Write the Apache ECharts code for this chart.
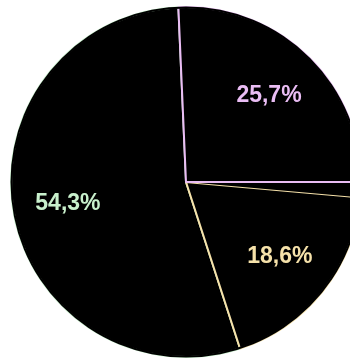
<!DOCTYPE html>
<html>
<head>
<meta charset="utf-8">
<script src="https://cdn.jsdelivr.net/npm/echarts@6/dist/echarts.min.js"></script>
<style>
  html, body { margin: 0; padding: 0; background: #ffffff; }
  #chart { width: 350px; height: 361px; }
</style>
</head>
<body>
<div id="chart"></div>
<script>
// Slice shares in percent, counter-clockwise from the top
const shares = [54.3, 18.6, 1.4, 25.7];
// Accent colour per slice (edges and label text); null = no edge
const accents = ['#c8f0cc', '#f6e2aa', null, '#eabdf4'];
// Which slices carry a value label
const showLabel = [true, true, false, true];

const fmt = v => v.toFixed(1).replace('.', ',') + '%';

const CENTER = [186, 182];
const R = 175;
const START = 92.5;

const chart = echarts.init(document.getElementById('chart'), null, { renderer: 'canvas' });

const slices = shares.map((v, i) => ({
  value: v,
  itemStyle: accents[i]
    ? { color: '#000000', borderColor: accents[i], borderWidth: 2 }
    : { color: '#000000', borderWidth: 0 }
}));

const labelRing = shares.map((v, i) => ({
  value: v,
  label: { show: showLabel[i], color: accents[i] || '#000000' }
}));

chart.setOption({
  backgroundColor: '#ffffff',
  animation: false,
  series: [
    {
      // black wedges with coloured edges
      type: 'pie',
      center: CENTER,
      radius: [0, R],
      startAngle: START,
      clockwise: false,
      label: { show: false },
      labelLine: { show: false },
      emphasis: { disabled: true },
      data: slices
    },
    {
      // plain black rim so the outer arc carries no coloured edge
      type: 'pie',
      center: CENTER,
      radius: [R - 1.5, R + 0.5],
      silent: true,
      itemStyle: { color: '#000000', borderWidth: 0 },
      label: { show: false },
      labelLine: { show: false },
      data: [1]
    },
    {
      // transparent ring that places the value labels
      type: 'pie',
      center: CENTER,
      radius: [59, R],
      startAngle: START,
      clockwise: false,
      silent: true,
      itemStyle: { color: 'rgba(0,0,0,0)', borderWidth: 0 },
      label: {
        position: 'inside',
        formatter: p => fmt(p.value),
        fontFamily: '"Liberation Sans", Arial, sans-serif',
        fontWeight: 'bold',
        fontSize: 23
      },
      labelLine: { show: false },
      data: labelRing
    }
  ]
});
</script>
</body>
</html>
